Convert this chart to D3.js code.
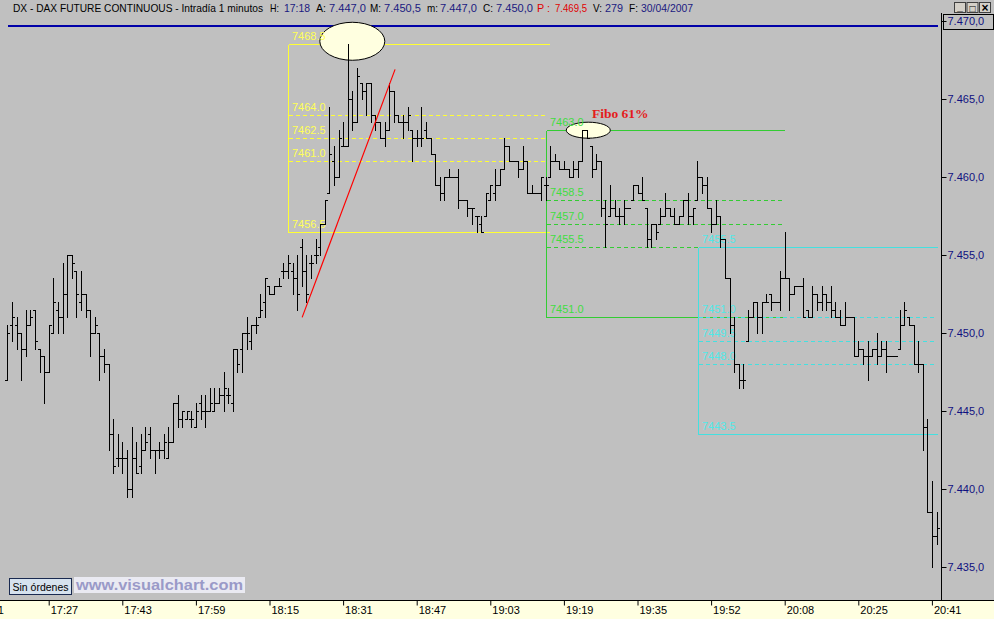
<!DOCTYPE html>
<html><head><meta charset="utf-8">
<script src="https://cdn.jsdelivr.net/npm/d3@7"></script>
<style>body{margin:0;background:#c0c0c0;overflow:hidden}svg{display:block}</style>
</head><body>
<svg id="c" width="994" height="619"></svg>
<script>
// ---- OHLC data, one bar per minute (bar 0 = 17:18) ----
const opens = [7447.0,7450.5,7450.5,7450.0,7449.0,7450.5,7451.5,7449.0,7448.5,7447.5,
7450.0,7451.5,7451.0,7452.5,7455.0,7454.0,7452.0,7452.5,7451.5,7450.0,
7450.0,7448.5,7448.0,7443.5,7442.0,7442.0,7442.0,7440.0,7442.0,7441.5,
7442.5,7443.5,7442.5,7442.5,7442.5,7442.0,7443.0,7445.5,7444.5,7444.5,
7444.5,7444.0,7445.5,7445.0,7445.0,7445.0,7445.5,7446.0,7446.0,7445.5,
7449.0,7449.0,7450.0,7449.5,7450.5,7451.0,7452.0,7453.0,7452.5,7453.0,
7454.0,7454.0,7454.0,7453.5,7455.5,7454.0,7454.5,7455.0,7455.5,7457.0,
7459.0,7461.0,7460.0,7462.0,7462.0,7465.0,7463.5,7466.0,7465.5,7466.0,
7464.0,7463.5,7462.5,7463.0,7465.5,7464.0,7463.5,7463.5,7463.0,7462.5,
7462.5,7463.0,7462.5,7461.5,7459.5,7459.0,7460.0,7460.0,7460.0,7458.5,
7458.5,7458.0,7457.5,7457.0,7457.5,7458.5,7459.0,7459.5,7460.5,7462.0,
7461.0,7461.0,7460.5,7461.0,7459.0,7459.0,7459.0,7459.5,7460.0,7461.0,
7461.0,7460.5,7460.5,7460.0,7460.5,7461.0,7463.0,7462.0,7460.5,7461.0,
7458.0,7457.5,7458.0,7457.5,7457.5,7458.0,7458.5,7459.5,7459.0,7458.0,
7456.0,7457.0,7457.0,7457.5,7458.0,7457.5,7457.0,7457.5,7458.5,7457.5,
7458.5,7460.0,7459.5,7458.0,7457.0,7457.5,7456.0,7453.5,7450.5,7448.0,
7447.0,7449.5,7451.0,7452.0,7451.0,7452.0,7452.5,7452.0,7452.0,7453.5,
7453.5,7452.5,7453.0,7453.0,7451.5,7451.0,7452.5,7452.0,7452.5,7452.0,
7451.5,7451.0,7450.5,7451.0,7451.0,7448.5,7449.0,7448.5,7448.5,7449.0,
7448.5,7449.0,7448.5,7448.5,7449.0,7450.5,7451.0,7450.5,7448.0,7448.0,
7444.0,7438.5,7437.0];
const highs = [7450.5,7452.0,7451.0,7450.0,7451.5,7451.5,7451.5,7449.0,7448.5,7450.5,
7453.5,7452.0,7454.5,7455.0,7455.0,7454.0,7454.0,7452.5,7451.5,7451.0,
7450.0,7449.0,7448.0,7444.5,7443.5,7443.0,7442.5,7444.0,7443.0,7443.5,
7444.0,7444.0,7442.5,7443.0,7443.5,7444.0,7445.5,7446.0,7445.0,7445.0,
7445.0,7445.5,7446.0,7446.0,7446.5,7446.5,7446.5,7447.5,7446.5,7449.0,
7449.0,7450.0,7451.0,7450.5,7451.0,7452.5,7453.5,7453.0,7453.0,7453.5,
7454.5,7455.0,7454.5,7455.0,7456.0,7455.0,7455.0,7456.0,7457.0,7458.5,
7464.5,7462.0,7463.0,7463.5,7468.5,7465.5,7467.0,7466.0,7466.0,7466.0,
7464.0,7463.5,7463.5,7466.0,7465.5,7464.0,7464.0,7464.5,7463.0,7463.0,
7464.5,7463.5,7462.5,7461.5,7460.0,7460.0,7460.5,7460.0,7460.5,7458.5,
7458.5,7458.0,7457.5,7457.5,7459.0,7459.5,7460.5,7460.5,7462.5,7462.0,
7461.0,7461.0,7462.0,7461.0,7459.5,7459.0,7460.0,7460.0,7462.0,7461.5,
7461.0,7461.0,7460.5,7461.0,7461.0,7463.0,7463.0,7462.0,7461.5,7461.0,
7458.5,7459.5,7458.5,7458.0,7458.5,7458.0,7459.5,7459.5,7460.0,7458.0,
7457.0,7457.0,7458.0,7459.0,7458.0,7458.0,7457.5,7458.5,7459.0,7458.0,
7461.0,7460.0,7460.0,7458.0,7458.5,7457.5,7456.0,7453.5,7451.0,7448.0,
7448.0,7451.5,7452.0,7452.0,7452.0,7452.5,7452.5,7452.0,7454.0,7456.5,
7453.5,7453.0,7453.0,7453.5,7451.5,7453.0,7452.5,7453.0,7452.5,7453.0,
7452.0,7451.5,7452.0,7451.0,7451.0,7449.5,7449.0,7449.5,7449.0,7450.0,
7449.5,7449.5,7448.5,7448.5,7451.5,7452.0,7451.0,7450.5,7449.5,7448.0,
7444.5,7440.5,7438.5];
const lows = [7447.0,7449.5,7449.0,7447.0,7448.5,7450.5,7449.0,7447.5,7445.5,7447.5,
7450.0,7450.0,7450.0,7451.0,7453.5,7451.0,7451.5,7451.0,7448.5,7450.0,
7447.0,7447.5,7442.5,7441.0,7441.5,7441.0,7439.5,7439.5,7441.0,7441.0,
7442.5,7442.0,7441.0,7442.0,7442.0,7442.0,7443.0,7444.0,7444.0,7444.5,
7444.0,7444.0,7444.5,7444.0,7445.0,7445.0,7445.5,7445.0,7445.5,7445.0,
7447.5,7447.5,7449.0,7449.0,7450.0,7451.0,7451.0,7452.5,7452.5,7453.0,
7453.5,7453.5,7452.5,7451.5,7453.0,7452.0,7453.5,7454.5,7455.0,7457.0,
7459.0,7459.5,7460.0,7462.0,7462.0,7463.0,7463.5,7465.0,7464.0,7463.5,
7463.0,7462.5,7462.0,7463.0,7463.5,7463.5,7462.5,7463.0,7461.0,7462.0,
7462.0,7462.5,7461.5,7459.5,7458.5,7458.5,7460.0,7460.0,7458.0,7458.5,
7457.5,7457.0,7456.5,7456.5,7457.5,7458.5,7458.5,7459.5,7460.5,7461.0,
7461.0,7460.0,7460.5,7459.0,7459.0,7459.0,7458.5,7458.5,7460.0,7461.0,
7460.5,7460.5,7460.0,7460.0,7460.0,7461.0,7462.5,7460.0,7460.5,7457.5,
7455.5,7457.5,7457.5,7457.0,7457.0,7458.0,7458.5,7459.0,7458.5,7455.5,
7455.5,7456.0,7457.0,7457.5,7457.5,7457.0,7457.0,7457.5,7457.0,7457.0,
7458.5,7459.0,7458.0,7456.5,7457.0,7455.5,7453.5,7450.0,7447.5,7446.5,
7446.5,7449.5,7451.0,7450.0,7450.0,7452.0,7451.5,7452.0,7451.5,7453.5,
7451.5,7452.5,7453.0,7451.0,7451.0,7451.0,7451.5,7451.5,7451.5,7451.0,
7451.0,7450.5,7450.5,7451.0,7448.5,7448.5,7448.0,7447.0,7448.5,7448.0,
7448.5,7447.5,7448.5,7448.5,7449.0,7450.5,7450.5,7448.0,7447.5,7442.5,
7438.5,7435.0,7436.5];
const closes = [7450.0,7451.0,7450.0,7449.0,7450.5,7451.0,7449.5,7448.5,7447.5,7450.5,
7452.0,7451.0,7452.5,7455.0,7454.5,7452.5,7452.5,7451.5,7450.0,7450.5,
7448.5,7448.0,7443.5,7441.5,7442.0,7442.0,7440.0,7442.0,7441.0,7442.5,
7443.0,7442.5,7442.5,7442.5,7443.0,7443.0,7445.5,7444.5,7445.0,7445.0,
7444.5,7445.0,7445.0,7445.0,7445.5,7445.5,7446.0,7446.5,7446.0,7449.0,
7448.0,7450.0,7450.0,7450.5,7450.5,7451.5,7453.5,7452.5,7453.0,7453.0,
7454.0,7454.5,7453.5,7452.5,7454.0,7452.5,7454.5,7455.0,7457.0,7458.5,
7461.5,7460.0,7462.5,7462.0,7465.0,7463.5,7466.5,7465.5,7466.0,7464.0,
7463.5,7462.5,7463.0,7465.5,7464.0,7463.5,7463.5,7464.0,7462.5,7462.5,
7462.5,7462.5,7461.5,7459.5,7459.0,7460.0,7460.0,7460.0,7458.5,7458.5,
7458.0,7458.0,7457.5,7456.5,7459.0,7459.5,7459.5,7460.5,7462.0,7461.0,
7461.0,7460.5,7461.0,7459.0,7459.0,7459.0,7460.0,7459.5,7461.0,7461.0,
7460.5,7460.5,7460.0,7460.5,7461.0,7463.0,7462.5,7460.5,7461.0,7458.0,
7457.0,7458.0,7457.5,7457.5,7458.0,7458.0,7459.5,7459.0,7458.5,7456.0,
7457.0,7456.5,7457.5,7458.0,7457.5,7457.0,7457.5,7458.5,7457.5,7458.0,
7460.0,7459.5,7458.0,7457.0,7457.5,7456.0,7453.5,7450.5,7448.0,7447.0,
7447.0,7451.0,7452.0,7451.0,7452.0,7452.0,7452.0,7452.0,7453.5,7453.5,
7452.5,7453.0,7453.0,7451.0,7451.0,7452.5,7452.0,7452.5,7452.0,7451.5,
7451.0,7450.5,7451.0,7451.0,7448.5,7449.0,7448.5,7448.5,7449.0,7448.5,
7449.0,7448.5,7448.5,7448.5,7450.5,7451.5,7450.5,7448.0,7448.0,7444.0,
7438.5,7437.0,7437.5];

// ---- axes ----
const tickBars   = [-7, 9, 25, 41, 57, 73, 89, 105, 121, 137, 153, 169, 185, 201];
const tickLabels = ["17:11","17:27","17:43","17:59","18:15","18:31","18:47","19:03","19:19","19:35","19:52","20:08","20:25","20:41"];
const priceTicks = [7470, 7465, 7460, 7455, 7450, 7445, 7440, 7435];

// ---- drawings (bar index / price) ----
const yellowSpan   = [61.0, 118.0];
const yellowLevels = [7468.5, 7464.0, 7462.5, 7461.0, 7456.5];
const greenSpan    = [117.2, 169.0];
const greenLevels  = [7463.0, 7458.5, 7457.0, 7455.5, 7451.0];
const cyanSpan     = [150.1, 202.3];
const cyanLevels   = [7455.5, 7451.0, 7449.5, 7448.0, 7443.5];
const trendLine    = [[64.1, 7451.0], [84.3, 7466.9]];
const blueLevel    = 7469.7;
const blueSpan     = [0.1, 202.3];
const marks        = [[75.0, 7468.7, 32.5, 19], [126.3, 7463.0, 22, 8]];

const header = [
  ["DX - DAX FUTURE CONTINUOUS - Intradía 1 minutos", 13, "#000", 250],
  ["H:", 270, "#000", 9], ["17:18", 284, "#1a1a80", 26],
  ["A:", 316, "#000", 10], ["7.447,0", 329, "#1a1a80", 37],
  ["M:", 370, "#000", 11], ["7.450,5", 384, "#1a1a80", 37],
  ["m:", 427, "#000", 11], ["7.447,0", 440, "#1a1a80", 37],
  ["C:", 483, "#000", 10], ["7.450,0", 496, "#1a1a80", 37],
  ["P :", 537, "#e00000", 13], ["7.469,5", 555, "#e00000", 32],
  ["V:", 593, "#000", 9], ["279", 605, "#1a1a80", 18],
  ["F:", 629, "#000", 9], ["30/04/2007", 641, "#1a1a80", 52]
];

const svg = d3.select("#c");
const FONT = "'Liberation Sans', Arial, sans-serif";
svg.append("rect").attr("width", 994).attr("height", 619).attr("fill", "#c0c0c0");

const x = d3.scaleLinear().domain([0, 202]).range([7.3, 936.5]);
const y = d3.scaleLinear().domain([7435, 7470]).range([567, 21]);

// header
svg.append("g").selectAll("text").data(header).join("text")
  .attr("x", d => d[1]).attr("y", 12).attr("fill", d => d[2])
  .attr("font-family", FONT).attr("font-size", 10.5)
  .attr("textLength", d => d[3]).attr("lengthAdjust", "spacingAndGlyphs")
  .text(d => d[0]);
// window buttons
const btn = svg.append("g");
["_", "□", "×"].forEach((s, i) => {
  const bx = 954 + i * 12.5;
  btn.append("rect").attr("x", bx + 0.5).attr("y", 2.5).attr("width", 11).attr("height", 10)
    .attr("fill", "#d4d0c8").attr("stroke", "#404040");
  btn.append("text").attr("x", bx + 6).attr("y", i === 0 ? 10 : 11.5).attr("text-anchor", "middle")
    .attr("font-family", FONT).attr("font-size", i === 2 ? 12 : 10).attr("font-weight", "bold").attr("fill", "#000").text(s);
});

// fibo boxes (lines first, labels later above the markers)
const fiboLabels = [];
function fibo(span, levels, lineCol, textCol) {
  const g = svg.append("g").attr("shape-rendering", "crispEdges");
  const x0 = Math.round(x(span[0])) + 0.5, x1 = Math.round(x(span[1]));
  const yTop = Math.round(y(levels[0])) + 0.5, yBot = Math.round(y(levels[levels.length - 1])) + 0.5;
  g.append("line").attr("x1", x0).attr("x2", x0).attr("y1", yTop).attr("y2", yBot).attr("stroke", lineCol);
  levels.forEach((v, i) => {
    const yy = Math.round(y(v)) + 0.5;
    const solid = i === 0 || i === levels.length - 1;
    g.append("line").attr("x1", x0).attr("x2", solid ? x1 : x1 - 2).attr("y1", yy).attr("y2", yy)
      .attr("stroke", lineCol).attr("stroke-width", 1).attr("stroke-dasharray", solid ? null : "4,3");
    fiboLabels.push([x0 + 3.5, yy - 4.5, textCol, v.toFixed(1)]);
  });
}
fibo(yellowSpan, yellowLevels, "#ffff33", "#ffff55");
fibo(greenSpan, greenLevels, "#33cc33", "#40dd40");
fibo(cyanSpan, cyanLevels, "#44e0e0", "#50e8e8");

// blue level line
svg.append("line").attr("x1", x(blueSpan[0])).attr("x2", x(blueSpan[1]))
  .attr("y1", Math.round(y(blueLevel))).attr("y2", Math.round(y(blueLevel)))
  .attr("stroke", "#0000a8").attr("stroke-width", 2).attr("shape-rendering", "crispEdges");

// ellipses (markers)
svg.append("g").selectAll("ellipse").data(marks).join("ellipse")
  .attr("cx", d => x(d[0])).attr("cy", d => y(d[1])).attr("rx", d => d[2]).attr("ry", d => d[3])
  .attr("fill", "#ffffe0").attr("stroke", "#000").attr("stroke-width", 1);

// fibo labels
svg.append("g").selectAll("text").data(fiboLabels).join("text")
  .attr("x", d => d[0]).attr("y", d => d[1]).attr("fill", d => d[2])
  .attr("font-family", FONT).attr("font-size", 11).text(d => d[3]);

// OHLC bars
const idx = d3.range(opens.length);
const bars = svg.append("g").attr("fill", "#000").attr("shape-rendering", "crispEdges");
idx.forEach(i => {
  const xi = Math.round(x(i));
  const yh = Math.round(y(highs[i])), yl = Math.round(y(lows[i]));
  bars.append("rect").attr("x", xi).attr("y", yh).attr("width", 1).attr("height", Math.max(1, yl - yh + 1));
  bars.append("rect").attr("x", xi - 2).attr("y", Math.round(y(opens[i]))).attr("width", 2).attr("height", 1);
  bars.append("rect").attr("x", xi + 1).attr("y", Math.round(y(closes[i]))).attr("width", 2).attr("height", 1);
});

// trend line
svg.append("line").attr("x1", x(trendLine[0][0])).attr("y1", y(trendLine[0][1]))
  .attr("x2", x(trendLine[1][0])).attr("y2", y(trendLine[1][1])).attr("stroke", "#ff0000").attr("stroke-width", 1.2);

// Fibo 61% label
svg.append("text").attr("x", x(127.1)).attr("y", y(7463.0) - 12).attr("fill", "#e41c1c")
  .attr("font-family", "'Liberation Serif', 'Times New Roman', serif").attr("font-weight", "bold")
  .attr("font-size", 13.5).text("Fibo 61%");

// right price axis
svg.append("line").attr("x1", 941.5).attr("x2", 941.5).attr("y1", 13).attr("y2", 600).attr("stroke", "#000");
const ya = svg.append("g").attr("transform", "translate(941.5,0)")
  .call(d3.axisRight(y).tickValues(priceTicks).tickSize(5).tickPadding(1)
    .tickFormat(v => `${Math.floor(v / 1000)}.${String(v % 1000).padStart(3, "0")},0`));
ya.select(".domain").remove();
ya.selectAll(".tick line").attr("stroke", "#000");
ya.selectAll(".tick text").attr("fill", "#101080").attr("font-family", FONT).attr("font-size", 11);
svg.append("rect").attr("x", 943.5).attr("y", 14.5).attr("width", 50).attr("height", 15)
  .attr("fill", "none").attr("stroke", "#000");

// bottom time axis
svg.append("rect").attr("x", 0).attr("y", 600).attr("width", 994).attr("height", 19).attr("fill", "#ffffe1");
svg.append("line").attr("x1", 0).attr("x2", 994).attr("y1", 600.5).attr("y2", 600.5).attr("stroke", "#000");
const xa = svg.append("g").attr("transform", "translate(0,600.5)")
  .call(d3.axisBottom(x).tickValues(tickBars).tickSize(5).tickFormat((d, i) => tickLabels[i]));
xa.select(".domain").remove();
xa.selectAll(".tick line").attr("stroke", "#000");
xa.selectAll(".tick text").attr("text-anchor", "start").attr("x", 1.5).attr("y", 6)
  .attr("fill", "#000").attr("font-family", FONT).attr("font-size", 11);

// bottom-left widgets
svg.append("rect").attr("x", 9.5).attr("y", 578.5).attr("width", 62).attr("height", 16)
  .attr("fill", "#d6e2ee").attr("stroke", "#1a2a50");
svg.append("text").attr("x", 40.5).attr("y", 590.5).attr("text-anchor", "middle")
  .attr("font-family", FONT).attr("font-size", 10).attr("fill", "#000")
  .attr("textLength", 56).attr("lengthAdjust", "spacingAndGlyphs").text("Sin órdenes");
svg.append("rect").attr("x", 74).attr("y", 577).attr("width", 171).attr("height", 16).attr("fill", "#eaeaf2");
svg.append("text").attr("x", 76).attr("y", 590).attr("font-family", FONT).attr("font-weight", "bold")
  .attr("font-size", 14).attr("fill", "#9a9ac8").attr("textLength", 167).attr("lengthAdjust", "spacingAndGlyphs")
  .text("www.visualchart.com");
</script>
</body></html>
